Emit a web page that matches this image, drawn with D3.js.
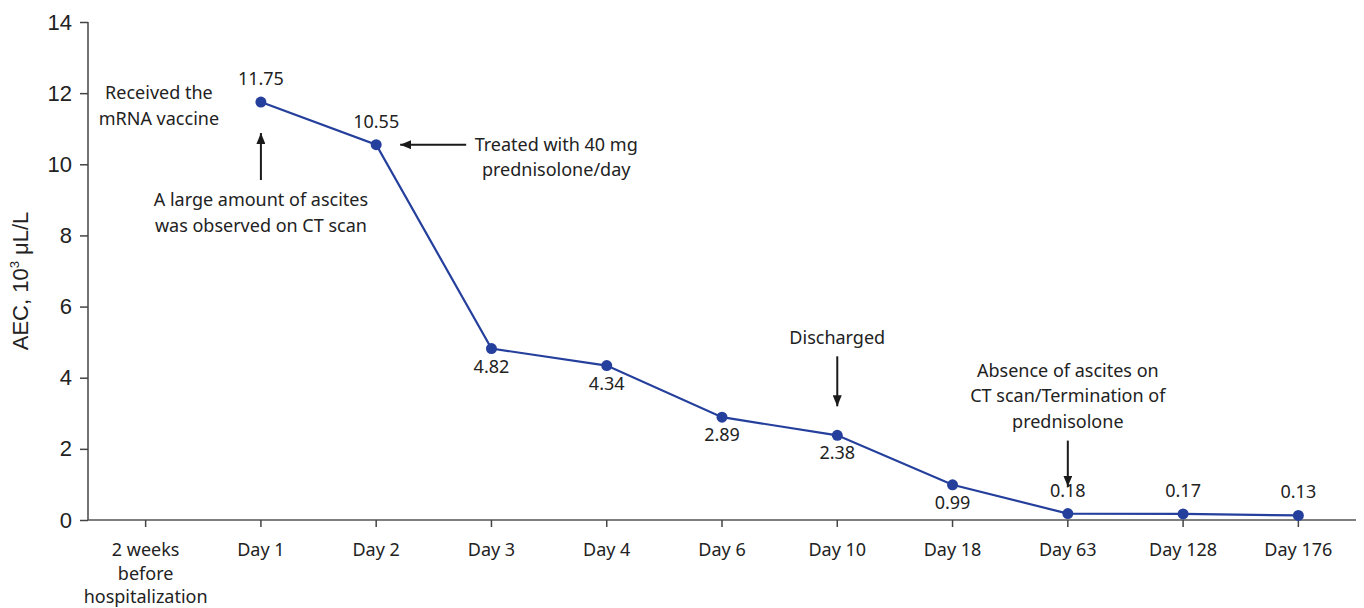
<!DOCTYPE html>
<html><head><meta charset="utf-8">
<script src="https://cdn.jsdelivr.net/npm/d3@7/dist/d3.min.js"></script>
<style>body{margin:0;background:#fff}</style>
</head><body><svg id="c" width="1364" height="608"></svg>
<script>
const categories = ["2 weeks|before|hospitalization","Day 1","Day 2","Day 3","Day 4","Day 6","Day 10","Day 18","Day 63","Day 128","Day 176"];
const aecValues = [null, 11.75, 10.55, 4.82, 4.34, 2.89, 2.38, 0.99, 0.18, 0.17, 0.13];
const labelAbove = [false, true, true, false, false, false, false, false, true, true, true];
const yTicks = [0, 2, 4, 6, 8, 10, 12, 14];
const annotations = [
  {cat: "Day 1", lines: ["Received the", "mRNA vaccine"], dx: -102, dy: -3},
  {cat: "Day 1", lines: ["A large amount of ascites", "was observed on CT scan"], dx: 0, dy: 104},
  {cat: "Day 2", lines: ["Treated with 40 mg", "prednisolone/day"], dx: 180, dy: 6},
  {cat: "Day 10", lines: ["Discharged"], dx: 0, dy: -91},
  {cat: "Day 63", lines: ["Absence of ascites on", "CT scan/Termination of", "prednisolone"], dx: 0, dy: -137}
];
const arrows = [
  {cat: "Day 1", dir: "up", from: 78, to: 31},
  {cat: "Day 2", dir: "left", from: 90, to: 24},
  {cat: "Day 10", dir: "down", from: 79, to: 29},
  {cat: "Day 63", dir: "down", from: 73, to: 27}
];

const svg = d3.select("#c");
const m = {l: 88, r: 8};
const W = 1364;
const x = d3.scaleBand().domain(categories).range([m.l, W - m.r]);
const y = d3.scaleLinear().domain([0, 14]).range([520, 22]);
const cx = c => x(c) + x.bandwidth() / 2;
const textFont = "'Noto Sans', sans-serif";
const numFont = "'Liberation Sans', Arial, sans-serif";
const fs = 18;

svg.append("defs").append("marker").attr("id", "ah")
  .attr("viewBox", "0 0 10 10").attr("refX", 10).attr("refY", 5)
  .attr("markerWidth", 11).attr("markerHeight", 9).attr("markerUnits", "userSpaceOnUse")
  .attr("orient", "auto").attr("preserveAspectRatio", "none")
  .append("path").attr("d", "M0,0 L10,5 L0,10 Z").attr("fill", "#1a1a1a");

// Y axis
const ya = svg.append("g").attr("transform", `translate(${m.l},0)`)
  .call(d3.axisLeft(y).tickValues(yTicks).tickSize(8).tickPadding(8).tickFormat(d3.format("d")));
ya.select(".domain").attr("stroke", "#444").attr("stroke-width", 1.5).attr("d", `M-0,${y(14)}V${y(0)}`);
ya.selectAll(".tick line").attr("stroke", "#444").attr("stroke-width", 1.5);
ya.selectAll(".tick text").attr("font-family", numFont).attr("font-size", 22).attr("fill", "#222");

// X axis
const xa = svg.append("g").attr("transform", `translate(0,${y(0)})`)
  .call(d3.axisBottom(x).tickSize(7).tickPadding(8).tickFormat(""));
xa.select(".domain").attr("stroke", "#555").attr("stroke-width", 1.5).attr("d", `M${m.l},0H${W - m.r}`);
xa.selectAll(".tick line").attr("stroke", "#444").attr("stroke-width", 1.5);
xa.selectAll(".tick").each(function(d) {
  const parts = d.split("|");
  const t = d3.select(this).append("text").attr("fill", "#222").attr("font-family", textFont)
    .attr("font-size", fs).attr("text-anchor", "middle");
  parts.forEach((p, i) => t.append("tspan").attr("x", 0).attr("y", 36 + i * 23.5).text(p));
});

// Y title
svg.append("text").attr("transform", `translate(28,281) rotate(-90)`)
  .attr("text-anchor", "middle").attr("font-family", numFont)
  .attr("font-size", 22).attr("fill", "#222")
  .html("AEC, 10<tspan dy='-9' font-size='13'>3</tspan><tspan dy='9'> μL/L</tspan>");

// Line
const pts = categories.map((c, i) => ({c, v: aecValues[i], above: labelAbove[i]})).filter(d => d.v != null);
svg.append("path").datum(pts)
  .attr("fill", "none").attr("stroke", "#253f9c").attr("stroke-width", 2.2)
  .attr("d", d3.line().x(d => cx(d.c)).y(d => y(d.v)));
svg.selectAll("circle.pt").data(pts).join("circle").attr("class", "pt")
  .attr("cx", d => cx(d.c)).attr("cy", d => y(d.v)).attr("r", 5.5).attr("fill", "#253f9c");
svg.selectAll("text.vl").data(pts).join("text").attr("class", "vl")
  .attr("x", d => cx(d.c)).attr("y", d => y(d.v) + (d.above ? -17 : 24))
  .attr("text-anchor", "middle").attr("font-family", textFont).attr("font-size", fs).attr("fill", "#222")
  .text(d => d.v.toFixed(2));

// Annotations
annotations.forEach(a => {
  const i = categories.indexOf(a.cat);
  const px = cx(a.cat) + a.dx, py = y(aecValues[i]) + a.dy;
  const t = svg.append("text").attr("text-anchor", "middle").attr("font-family", textFont)
    .attr("font-size", fs).attr("fill", "#222");
  a.lines.forEach((l, k) => t.append("tspan").attr("x", px).attr("y", py + k * 25.5).text(l));
});

// Arrows
arrows.forEach(a => {
  const i = categories.indexOf(a.cat);
  const px = cx(a.cat), py = y(aecValues[i]);
  let x1, y1, x2, y2;
  if (a.dir === "up") { x1 = px; y1 = py + a.from; x2 = px; y2 = py + a.to; }
  else if (a.dir === "left") { x1 = px + a.from; y1 = py; x2 = px + a.to; y2 = py; }
  else { x1 = px; y1 = py - a.from; x2 = px; y2 = py - a.to; }
  svg.append("line").attr("x1", x1).attr("y1", y1).attr("x2", x2).attr("y2", y2)
    .attr("stroke", "#1a1a1a").attr("stroke-width", 2).attr("marker-end", "url(#ah)");
});
</script></body></html>
